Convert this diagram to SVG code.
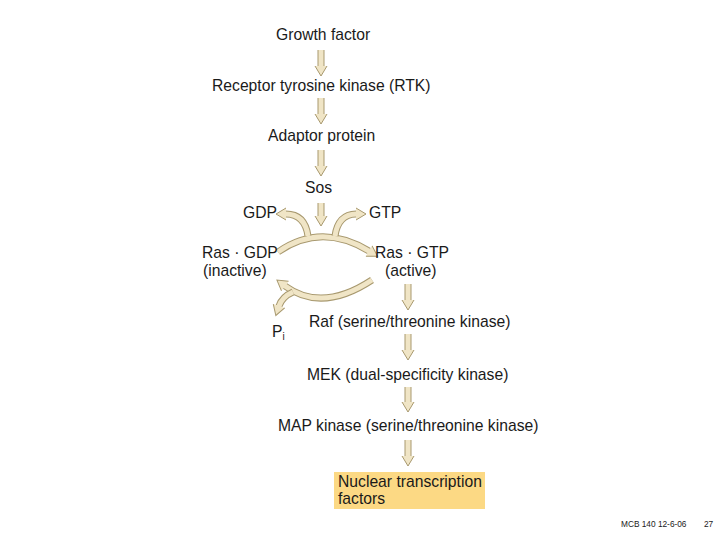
<svg xmlns="http://www.w3.org/2000/svg" width="720" height="540" viewBox="0 0 720 540">
<style>
text{font-family:"Liberation Sans",Arial,sans-serif;font-size:15.7px;fill:#1a1a1a}
.ft{font-size:8.3px}
.o{fill:none;stroke:#a8996f;stroke-width:7}
.i{fill:none;stroke:#f0e5c6;stroke-width:5}
</style>
<defs>
<marker id="ah" markerUnits="userSpaceOnUse" markerWidth="14" markerHeight="16" refX="1" refY="7" orient="auto" viewBox="0 0 14 14" overflow="visible">
<path d="M1,1 L11,7 L1,13" fill="#f0e5c6" stroke="#a8996f" stroke-width="1"/>
</marker>
</defs>
<rect width="720" height="540" fill="#fff"/>
<g id="connectors">
<path class="o" d="M321 50 V66" marker-end="url(#ah)"/><path class="i" d="M321 50 V66.5"/>
<path class="o" d="M321 98 V114" marker-end="url(#ah)"/><path class="i" d="M321 98 V114.5"/>
<path class="o" d="M321 150 V166" marker-end="url(#ah)"/><path class="i" d="M321 150 V166.5"/>
<path class="o" d="M321 203 V216" marker-end="url(#ah)"/><path class="i" d="M321 203 V216.5"/>
<path class="o" d="M278 252 Q321 222 369 251" marker-end="url(#ah)"/><path class="i" d="M278 252 Q321 222 369.5 251.3"/>
<path class="o" d="M308 236 C306 222 299 214 286 214" marker-end="url(#ah)"/><path class="i" d="M308 236 C306 222 299 214 285.5 214"/>
<path class="o" d="M335 236 C337 222 344 214 356 214" marker-end="url(#ah)"/><path class="i" d="M335 236 C337 222 344 214 356.5 214"/>
<path class="o" d="M372 280 Q322 313 285 286" marker-end="url(#ah)"/><path class="i" d="M372 280 Q322 313 284.6 285.7"/>
<path class="o" d="M293 292 C286 295 281 300 279 306" marker-end="url(#ah)"/><path class="i" d="M293 292 C286 295 281 300 278.8 306.5"/>
<path class="o" d="M408 284 V300" marker-end="url(#ah)"/><path class="i" d="M408 284 V300.5"/>
<path class="o" d="M408 334 V350" marker-end="url(#ah)"/><path class="i" d="M408 334 V350.5"/>
<path class="o" d="M408 387 V402" marker-end="url(#ah)"/><path class="i" d="M408 387 V402.5"/>
<path class="o" d="M408 440 V456" marker-end="url(#ah)"/><path class="i" d="M408 440 V456.5"/>
</g>
<g id="growth-factor"><text x="276" y="40">Growth factor</text></g>
<g id="rtk"><text x="212" y="91">Receptor tyrosine kinase (RTK)</text></g>
<g id="adaptor"><text x="268" y="141">Adaptor protein</text></g>
<g id="sos"><text x="305" y="193">Sos</text></g>
<g id="gdp"><text x="243" y="218">GDP</text></g>
<g id="gtp"><text x="369" y="218">GTP</text></g>
<g id="ras-gdp"><text x="202" y="258">Ras · GDP</text><text x="203" y="276">(inactive)</text></g>
<g id="ras-gtp"><text x="375" y="258">Ras · GTP</text><text x="385" y="276">(active)</text></g>
<g id="pi"><text x="272" y="337" font-size="17">P<tspan font-size="10" dy="3">i</tspan></text></g>
<g id="raf"><text x="309" y="327">Raf (serine/threonine kinase)</text></g>
<g id="mek"><text x="307" y="380">MEK (dual-specificity kinase)</text></g>
<g id="mapk"><text x="278" y="431">MAP kinase (serine/threonine kinase)</text></g>
<g id="ntf"><rect x="334" y="472" width="151" height="37" fill="#fcd984"/><text x="338" y="487">Nuclear transcription</text><text x="338" y="504">factors</text></g>
<g id="footer"><text class="ft" x="621" y="527">MCB 140 12-6-06</text><text class="ft" x="704" y="527" font-size="9">27</text></g>
</svg>
